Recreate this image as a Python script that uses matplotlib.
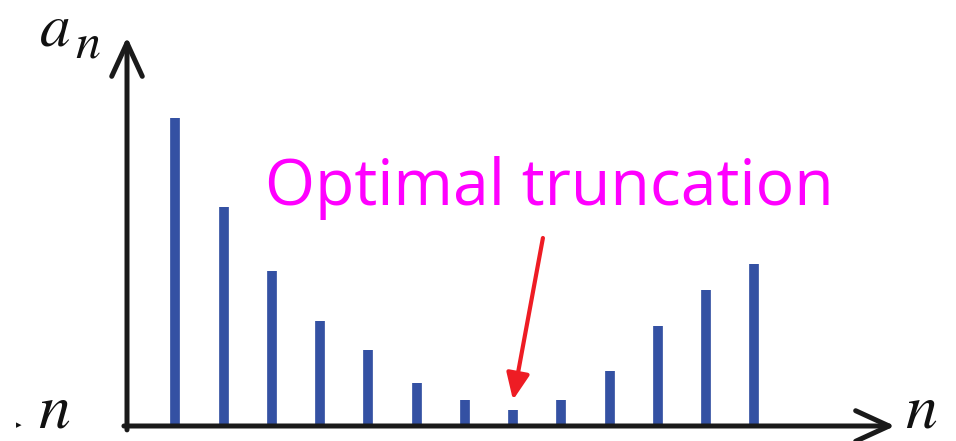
import matplotlib.pyplot as plt

# coefficient magnitudes |a_n| for n = 1..13
n_vals = list(range(1, 14))
a_vals = [3.08, 2.19, 1.55, 1.05, 0.76, 0.43, 0.26, 0.16, 0.26, 0.55, 1.00, 1.36, 1.62]
best_n = 8  # optimal truncation point

plt.rcParams['mathtext.fontset'] = 'stix'

fig = plt.figure(figsize=(9.56, 4.41), dpi=100)
W, H = 956, 441
# axes origin at pixel (127, 426), one step in n = 48.25 px
x0, y0 = 127, 426
ax = fig.add_axes([x0 / W, (H - y0) / H, (895 - x0) / W, (y0 - 37) / H])
ax.set_xlim(0, (895 - x0) / 48.25)
ax.set_ylim(0, (y0 - 37) / 100)
ax.axis('off')

# the bars
ax.vlines(n_vals, 0, a_vals, colors='#3451a3', linewidth=7, zorder=2)

# axes with open arrow heads
arrow = dict(arrowstyle='->, head_length=1.2, head_width=0.55', color='#1a1a1a',
             lw=3.6, mutation_scale=20, shrinkA=0, shrinkB=0, capstyle='round')
ax.annotate('', xy=(1, 0), xytext=(-0.004, 0), xycoords='axes fraction',
            arrowprops=arrow, annotation_clip=False)
ax.annotate('', xy=(0, 1), xytext=(0, -0.01), xycoords='axes fraction',
            arrowprops=arrow, annotation_clip=False)

# labels
fig.text(39 / W, 1 - 45 / H, r'$a$', fontsize=44, color='#111111')
fig.text(75 / W, 1 - 58 / H, r'$n$', fontsize=36, color='#111111')
fig.text(905 / W, 1 - 428 / H, r'$n$', fontsize=46, color='#111111')
fig.text(38 / W, 1 - 428 / H, r'$n$', fontsize=46, color='#111111')
fig.text(16 / W, 1 - 428 / H, '\u25b8', fontsize=8, color='#111111')

# annotation
ax.annotate('', xy=(best_n, a_vals[best_n - 1] + 0.1), xytext=(best_n + 0.62, 1.88),
            arrowprops=dict(arrowstyle='-|>, head_length=0.8, head_width=0.35',
                            color='#ee1c24', lw=3, mutation_scale=20, shrinkA=0, shrinkB=0))
fig.text(265 / W, 1 - 205 / H, 'Optimal truncation', fontsize=46.4,
         family='Open Sans', color='#ff00ff')

fig.savefig('out.png', dpi=100)
